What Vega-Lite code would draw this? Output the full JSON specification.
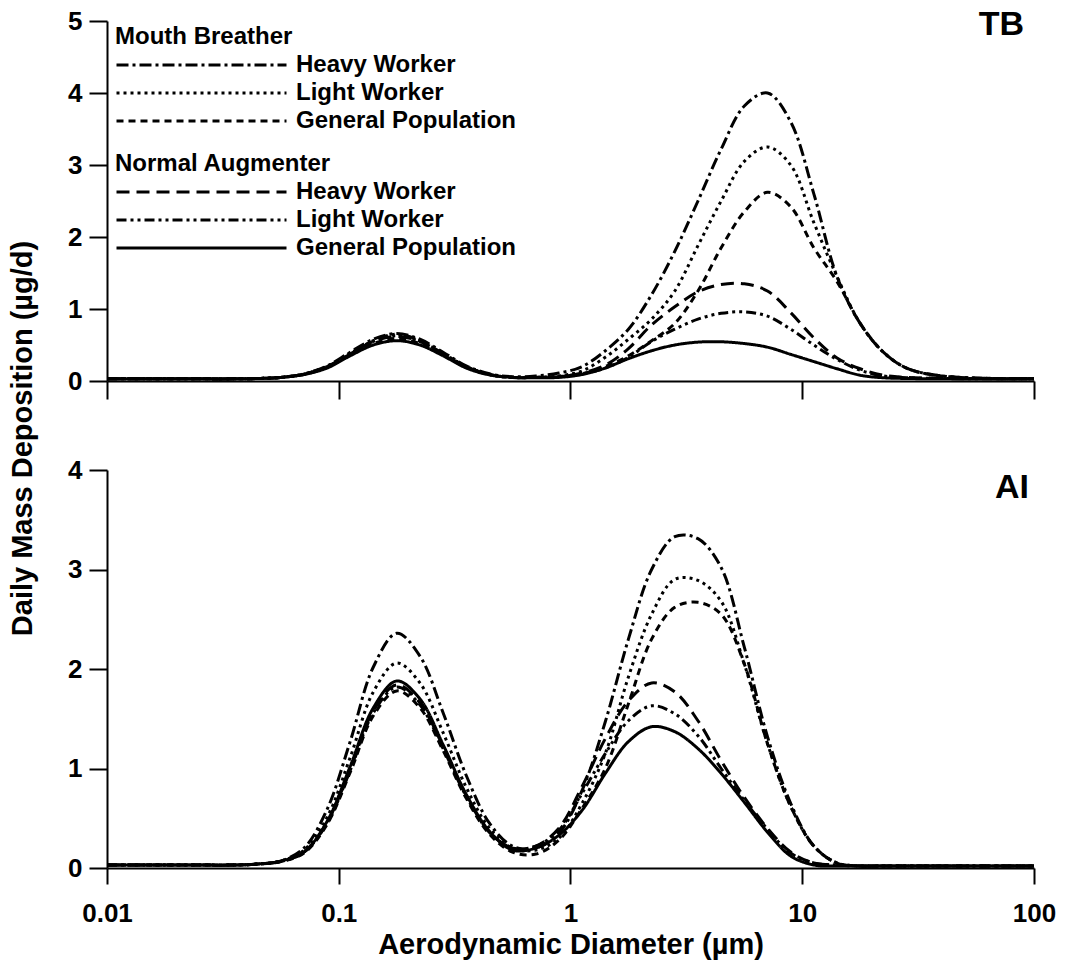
{
  "$schema": "https://vega.github.io/schema/vega-lite/v6.json",
  "padding": {"left": 8, "top": 8, "right": 5, "bottom": 2},
  "background": "white",
  "config": {
    "font": "Liberation Sans",
    "view": {"stroke": null},
    "axis": {"domainColor": "black", "domainWidth": 2, "tickColor": "black", "tickWidth": 2, "labelColor": "black", "titleColor": "black", "grid": false, "labelFontWeight": "bold", "titleFontWeight": "bold", "labelFontSize": 26, "titleFontSize": 29, "labelFlush": false},
    "line": {"color": "black", "strokeWidth": 3, "strokeCap": "butt", "interpolate": "catmull-rom"},
    "legend": {"titleFontSize": 24, "titleFontWeight": "bold", "titleColor": "black", "titlePadding": 4, "titleLimit": 500, "labelFontSize": 24, "labelFontWeight": "bold", "labelColor": "black", "labelLimit": 0, "labelOffset": 8, "symbolType": "stroke", "symbolSize": 28900, "symbolStrokeWidth": 3, "symbolStrokeColor": "black", "clipHeight": 24, "rowPadding": 4, "padding": 0}
  },
  "bounds": "flush",
  "spacing": 89,
  "datasets": {
    "tb": [
      {"s":"MBH","d":0.01,"v":0.03},{"s":"MBH","d":0.0224,"v":0.03},{"s":"MBH","d":0.0355,"v":0.03},{"s":"MBH","d":0.0447,"v":0.035},{"s":"MBH","d":0.0562,"v":0.05},{"s":"MBH","d":0.0708,"v":0.1},{"s":"MBH","d":0.0891,"v":0.21},{"s":"MBH","d":0.112,"v":0.4},{"s":"MBH","d":0.141,"v":0.58},{"s":"MBH","d":0.178,"v":0.66},{"s":"MBH","d":0.224,"v":0.58},{"s":"MBH","d":0.282,"v":0.4},{"s":"MBH","d":0.355,"v":0.21},{"s":"MBH","d":0.447,"v":0.1},{"s":"MBH","d":0.562,"v":0.06},{"s":"MBH","d":0.708,"v":0.07},{"s":"MBH","d":0.891,"v":0.11},{"s":"MBH","d":1.122,"v":0.2},{"s":"MBH","d":1.413,"v":0.42},{"s":"MBH","d":1.778,"v":0.72},{"s":"MBH","d":2.239,"v":1.2},{"s":"MBH","d":2.818,"v":1.8},{"s":"MBH","d":3.548,"v":2.5},{"s":"MBH","d":4.467,"v":3.22},{"s":"MBH","d":5.623,"v":3.82},{"s":"MBH","d":7.079,"v":4.0},{"s":"MBH","d":8.913,"v":3.6},{"s":"MBH","d":11.22,"v":2.6},{"s":"MBH","d":14.13,"v":1.45},{"s":"MBH","d":17.78,"v":0.8},{"s":"MBH","d":22.39,"v":0.4},{"s":"MBH","d":28.18,"v":0.18},{"s":"MBH","d":39.81,"v":0.07},{"s":"MBH","d":100,"v":0.03},
      {"s":"MBL","d":0.01,"v":0.03},{"s":"MBL","d":0.0224,"v":0.03},{"s":"MBL","d":0.0355,"v":0.03},{"s":"MBL","d":0.0447,"v":0.035},{"s":"MBL","d":0.0562,"v":0.05},{"s":"MBL","d":0.0708,"v":0.095},{"s":"MBL","d":0.0891,"v":0.2},{"s":"MBL","d":0.112,"v":0.38},{"s":"MBL","d":0.141,"v":0.55},{"s":"MBL","d":0.178,"v":0.63},{"s":"MBL","d":0.224,"v":0.55},{"s":"MBL","d":0.282,"v":0.38},{"s":"MBL","d":0.355,"v":0.2},{"s":"MBL","d":0.447,"v":0.09},{"s":"MBL","d":0.562,"v":0.05},{"s":"MBL","d":0.708,"v":0.05},{"s":"MBL","d":0.891,"v":0.07},{"s":"MBL","d":1.122,"v":0.14},{"s":"MBL","d":1.413,"v":0.33},{"s":"MBL","d":1.778,"v":0.58},{"s":"MBL","d":2.239,"v":0.86},{"s":"MBL","d":2.818,"v":1.25},{"s":"MBL","d":3.548,"v":1.88},{"s":"MBL","d":4.467,"v":2.5},{"s":"MBL","d":5.623,"v":3.05},{"s":"MBL","d":7.079,"v":3.25},{"s":"MBL","d":8.913,"v":3.0},{"s":"MBL","d":11.22,"v":2.2},{"s":"MBL","d":14.13,"v":1.45},{"s":"MBL","d":17.78,"v":0.8},{"s":"MBL","d":22.39,"v":0.4},{"s":"MBL","d":28.18,"v":0.18},{"s":"MBL","d":39.81,"v":0.07},{"s":"MBL","d":100,"v":0.03},
      {"s":"MBG","d":0.01,"v":0.03},{"s":"MBG","d":0.0224,"v":0.03},{"s":"MBG","d":0.0355,"v":0.03},{"s":"MBG","d":0.0447,"v":0.035},{"s":"MBG","d":0.0562,"v":0.05},{"s":"MBG","d":0.0708,"v":0.09},{"s":"MBG","d":0.0891,"v":0.19},{"s":"MBG","d":0.112,"v":0.36},{"s":"MBG","d":0.141,"v":0.52},{"s":"MBG","d":0.178,"v":0.59},{"s":"MBG","d":0.224,"v":0.52},{"s":"MBG","d":0.282,"v":0.36},{"s":"MBG","d":0.355,"v":0.19},{"s":"MBG","d":0.447,"v":0.09},{"s":"MBG","d":0.562,"v":0.05},{"s":"MBG","d":0.708,"v":0.05},{"s":"MBG","d":0.891,"v":0.06},{"s":"MBG","d":1.122,"v":0.1},{"s":"MBG","d":1.413,"v":0.2},{"s":"MBG","d":1.778,"v":0.35},{"s":"MBG","d":2.239,"v":0.56},{"s":"MBG","d":2.818,"v":0.8},{"s":"MBG","d":3.548,"v":1.25},{"s":"MBG","d":4.467,"v":1.85},{"s":"MBG","d":5.623,"v":2.35},{"s":"MBG","d":7.079,"v":2.62},{"s":"MBG","d":8.913,"v":2.42},{"s":"MBG","d":11.22,"v":1.85},{"s":"MBG","d":14.13,"v":1.38},{"s":"MBG","d":17.78,"v":0.8},{"s":"MBG","d":22.39,"v":0.4},{"s":"MBG","d":28.18,"v":0.18},{"s":"MBG","d":39.81,"v":0.07},{"s":"MBG","d":100,"v":0.03},
      {"s":"NAH","d":0.01,"v":0.03},{"s":"NAH","d":0.0224,"v":0.03},{"s":"NAH","d":0.0355,"v":0.03},{"s":"NAH","d":0.0447,"v":0.035},{"s":"NAH","d":0.0562,"v":0.05},{"s":"NAH","d":0.0708,"v":0.095},{"s":"NAH","d":0.0891,"v":0.2},{"s":"NAH","d":0.112,"v":0.375},{"s":"NAH","d":0.141,"v":0.55},{"s":"NAH","d":0.178,"v":0.62},{"s":"NAH","d":0.224,"v":0.55},{"s":"NAH","d":0.282,"v":0.375},{"s":"NAH","d":0.355,"v":0.2},{"s":"NAH","d":0.447,"v":0.09},{"s":"NAH","d":0.562,"v":0.05},{"s":"NAH","d":0.708,"v":0.05},{"s":"NAH","d":0.891,"v":0.06},{"s":"NAH","d":1.122,"v":0.11},{"s":"NAH","d":1.413,"v":0.22},{"s":"NAH","d":1.778,"v":0.45},{"s":"NAH","d":2.239,"v":0.78},{"s":"NAH","d":2.818,"v":1.03},{"s":"NAH","d":3.548,"v":1.24},{"s":"NAH","d":4.467,"v":1.34},{"s":"NAH","d":5.623,"v":1.35},{"s":"NAH","d":7.079,"v":1.25},{"s":"NAH","d":8.913,"v":0.95},{"s":"NAH","d":11.22,"v":0.6},{"s":"NAH","d":14.13,"v":0.32},{"s":"NAH","d":17.78,"v":0.17},{"s":"NAH","d":22.39,"v":0.08},{"s":"NAH","d":28.18,"v":0.05},{"s":"NAH","d":39.81,"v":0.04},{"s":"NAH","d":100,"v":0.03},
      {"s":"NAL","d":0.01,"v":0.03},{"s":"NAL","d":0.0224,"v":0.03},{"s":"NAL","d":0.0355,"v":0.03},{"s":"NAL","d":0.0447,"v":0.035},{"s":"NAL","d":0.0562,"v":0.05},{"s":"NAL","d":0.0708,"v":0.095},{"s":"NAL","d":0.0891,"v":0.2},{"s":"NAL","d":0.112,"v":0.38},{"s":"NAL","d":0.141,"v":0.56},{"s":"NAL","d":0.178,"v":0.65},{"s":"NAL","d":0.224,"v":0.56},{"s":"NAL","d":0.282,"v":0.38},{"s":"NAL","d":0.355,"v":0.2},{"s":"NAL","d":0.447,"v":0.09},{"s":"NAL","d":0.562,"v":0.05},{"s":"NAL","d":0.708,"v":0.05},{"s":"NAL","d":0.891,"v":0.06},{"s":"NAL","d":1.122,"v":0.1},{"s":"NAL","d":1.413,"v":0.18},{"s":"NAL","d":1.778,"v":0.33},{"s":"NAL","d":2.239,"v":0.55},{"s":"NAL","d":2.818,"v":0.72},{"s":"NAL","d":3.548,"v":0.86},{"s":"NAL","d":4.467,"v":0.94},{"s":"NAL","d":5.623,"v":0.96},{"s":"NAL","d":7.079,"v":0.9},{"s":"NAL","d":8.913,"v":0.72},{"s":"NAL","d":11.22,"v":0.5},{"s":"NAL","d":14.13,"v":0.3},{"s":"NAL","d":17.78,"v":0.15},{"s":"NAL","d":22.39,"v":0.07},{"s":"NAL","d":28.18,"v":0.045},{"s":"NAL","d":39.81,"v":0.035},{"s":"NAL","d":100,"v":0.03},
      {"s":"NAG","d":0.01,"v":0.03},{"s":"NAG","d":0.0224,"v":0.03},{"s":"NAG","d":0.0355,"v":0.03},{"s":"NAG","d":0.0447,"v":0.035},{"s":"NAG","d":0.0562,"v":0.05},{"s":"NAG","d":0.0708,"v":0.09},{"s":"NAG","d":0.0891,"v":0.18},{"s":"NAG","d":0.112,"v":0.35},{"s":"NAG","d":0.141,"v":0.5},{"s":"NAG","d":0.178,"v":0.56},{"s":"NAG","d":0.224,"v":0.5},{"s":"NAG","d":0.282,"v":0.35},{"s":"NAG","d":0.355,"v":0.18},{"s":"NAG","d":0.447,"v":0.085},{"s":"NAG","d":0.562,"v":0.05},{"s":"NAG","d":0.708,"v":0.045},{"s":"NAG","d":0.891,"v":0.05},{"s":"NAG","d":1.122,"v":0.09},{"s":"NAG","d":1.413,"v":0.18},{"s":"NAG","d":1.778,"v":0.31},{"s":"NAG","d":2.239,"v":0.42},{"s":"NAG","d":2.818,"v":0.5},{"s":"NAG","d":3.548,"v":0.54},{"s":"NAG","d":4.467,"v":0.545},{"s":"NAG","d":5.623,"v":0.52},{"s":"NAG","d":7.079,"v":0.47},{"s":"NAG","d":8.913,"v":0.37},{"s":"NAG","d":11.22,"v":0.27},{"s":"NAG","d":14.13,"v":0.17},{"s":"NAG","d":17.78,"v":0.08},{"s":"NAG","d":22.39,"v":0.045},{"s":"NAG","d":28.18,"v":0.035},{"s":"NAG","d":39.81,"v":0.03},{"s":"NAG","d":100,"v":0.03}
    ],
    "ai": [
      {"s":"MBH","d":0.01,"v":0.03},{"s":"MBH","d":0.0224,"v":0.03},{"s":"MBH","d":0.0355,"v":0.03},{"s":"MBH","d":0.0447,"v":0.04},{"s":"MBH","d":0.0562,"v":0.07},{"s":"MBH","d":0.0708,"v":0.2},{"s":"MBH","d":0.0891,"v":0.59},{"s":"MBH","d":0.112,"v":1.27},{"s":"MBH","d":0.141,"v":2.02},{"s":"MBH","d":0.178,"v":2.36},{"s":"MBH","d":0.224,"v":2.13},{"s":"MBH","d":0.282,"v":1.56},{"s":"MBH","d":0.355,"v":0.93},{"s":"MBH","d":0.447,"v":0.45},{"s":"MBH","d":0.562,"v":0.22},{"s":"MBH","d":0.708,"v":0.2},{"s":"MBH","d":0.891,"v":0.35},{"s":"MBH","d":1.122,"v":0.78},{"s":"MBH","d":1.413,"v":1.47},{"s":"MBH","d":1.778,"v":2.3},{"s":"MBH","d":2.239,"v":3.0},{"s":"MBH","d":2.818,"v":3.33},{"s":"MBH","d":3.548,"v":3.31},{"s":"MBH","d":4.467,"v":3.02},{"s":"MBH","d":5.623,"v":2.22},{"s":"MBH","d":7.079,"v":1.32},{"s":"MBH","d":8.913,"v":0.65},{"s":"MBH","d":11.22,"v":0.22},{"s":"MBH","d":14.13,"v":0.05},{"s":"MBH","d":17.78,"v":0.02},{"s":"MBH","d":22.39,"v":0.02},{"s":"MBH","d":28.18,"v":0.02},{"s":"MBH","d":39.81,"v":0.02},{"s":"MBH","d":100,"v":0.02},
      {"s":"MBL","d":0.01,"v":0.03},{"s":"MBL","d":0.0224,"v":0.03},{"s":"MBL","d":0.0355,"v":0.03},{"s":"MBL","d":0.0447,"v":0.04},{"s":"MBL","d":0.0562,"v":0.07},{"s":"MBL","d":0.0708,"v":0.18},{"s":"MBL","d":0.0891,"v":0.51},{"s":"MBL","d":0.112,"v":1.11},{"s":"MBL","d":0.141,"v":1.77},{"s":"MBL","d":0.178,"v":2.06},{"s":"MBL","d":0.224,"v":1.86},{"s":"MBL","d":0.282,"v":1.36},{"s":"MBL","d":0.355,"v":0.81},{"s":"MBL","d":0.447,"v":0.4},{"s":"MBL","d":0.562,"v":0.2},{"s":"MBL","d":0.708,"v":0.18},{"s":"MBL","d":0.891,"v":0.3},{"s":"MBL","d":1.122,"v":0.65},{"s":"MBL","d":1.413,"v":1.15},{"s":"MBL","d":1.778,"v":1.92},{"s":"MBL","d":2.239,"v":2.55},{"s":"MBL","d":2.818,"v":2.9},{"s":"MBL","d":3.548,"v":2.89},{"s":"MBL","d":4.467,"v":2.68},{"s":"MBL","d":5.623,"v":2.05},{"s":"MBL","d":7.079,"v":1.25},{"s":"MBL","d":8.913,"v":0.62},{"s":"MBL","d":11.22,"v":0.22},{"s":"MBL","d":14.13,"v":0.05},{"s":"MBL","d":17.78,"v":0.02},{"s":"MBL","d":22.39,"v":0.02},{"s":"MBL","d":28.18,"v":0.02},{"s":"MBL","d":39.81,"v":0.02},{"s":"MBL","d":100,"v":0.02},
      {"s":"MBG","d":0.01,"v":0.03},{"s":"MBG","d":0.0224,"v":0.03},{"s":"MBG","d":0.0355,"v":0.03},{"s":"MBG","d":0.0447,"v":0.04},{"s":"MBG","d":0.0562,"v":0.065},{"s":"MBG","d":0.0708,"v":0.15},{"s":"MBG","d":0.0891,"v":0.44},{"s":"MBG","d":0.112,"v":0.96},{"s":"MBG","d":0.141,"v":1.53},{"s":"MBG","d":0.178,"v":1.78},{"s":"MBG","d":0.224,"v":1.61},{"s":"MBG","d":0.282,"v":1.18},{"s":"MBG","d":0.355,"v":0.7},{"s":"MBG","d":0.447,"v":0.34},{"s":"MBG","d":0.562,"v":0.16},{"s":"MBG","d":0.708,"v":0.14},{"s":"MBG","d":0.891,"v":0.28},{"s":"MBG","d":1.122,"v":0.6},{"s":"MBG","d":1.413,"v":1.0},{"s":"MBG","d":1.778,"v":1.65},{"s":"MBG","d":2.239,"v":2.3},{"s":"MBG","d":2.818,"v":2.62},{"s":"MBG","d":3.548,"v":2.67},{"s":"MBG","d":4.467,"v":2.55},{"s":"MBG","d":5.623,"v":2.05},{"s":"MBG","d":7.079,"v":1.25},{"s":"MBG","d":8.913,"v":0.62},{"s":"MBG","d":11.22,"v":0.22},{"s":"MBG","d":14.13,"v":0.05},{"s":"MBG","d":17.78,"v":0.02},{"s":"MBG","d":22.39,"v":0.02},{"s":"MBG","d":28.18,"v":0.02},{"s":"MBG","d":39.81,"v":0.02},{"s":"MBG","d":100,"v":0.02},
      {"s":"NAH","d":0.01,"v":0.03},{"s":"NAH","d":0.0224,"v":0.03},{"s":"NAH","d":0.0355,"v":0.03},{"s":"NAH","d":0.0447,"v":0.04},{"s":"NAH","d":0.0562,"v":0.065},{"s":"NAH","d":0.0708,"v":0.16},{"s":"NAH","d":0.0891,"v":0.46},{"s":"NAH","d":0.112,"v":0.99},{"s":"NAH","d":0.141,"v":1.58},{"s":"NAH","d":0.178,"v":1.84},{"s":"NAH","d":0.224,"v":1.66},{"s":"NAH","d":0.282,"v":1.22},{"s":"NAH","d":0.355,"v":0.73},{"s":"NAH","d":0.447,"v":0.36},{"s":"NAH","d":0.562,"v":0.2},{"s":"NAH","d":0.708,"v":0.22},{"s":"NAH","d":0.891,"v":0.4},{"s":"NAH","d":1.122,"v":0.82},{"s":"NAH","d":1.413,"v":1.3},{"s":"NAH","d":1.778,"v":1.68},{"s":"NAH","d":2.239,"v":1.86},{"s":"NAH","d":2.818,"v":1.77},{"s":"NAH","d":3.548,"v":1.48},{"s":"NAH","d":4.467,"v":1.08},{"s":"NAH","d":5.623,"v":0.71},{"s":"NAH","d":7.079,"v":0.4},{"s":"NAH","d":8.913,"v":0.16},{"s":"NAH","d":11.22,"v":0.05},{"s":"NAH","d":14.13,"v":0.03},{"s":"NAH","d":17.78,"v":0.02},{"s":"NAH","d":22.39,"v":0.02},{"s":"NAH","d":28.18,"v":0.02},{"s":"NAH","d":39.81,"v":0.02},{"s":"NAH","d":100,"v":0.02},
      {"s":"NAL","d":0.01,"v":0.03},{"s":"NAL","d":0.0224,"v":0.03},{"s":"NAL","d":0.0355,"v":0.03},{"s":"NAL","d":0.0447,"v":0.04},{"s":"NAL","d":0.0562,"v":0.065},{"s":"NAL","d":0.0708,"v":0.16},{"s":"NAL","d":0.0891,"v":0.45},{"s":"NAL","d":0.112,"v":0.98},{"s":"NAL","d":0.141,"v":1.56},{"s":"NAL","d":0.178,"v":1.82},{"s":"NAL","d":0.224,"v":1.64},{"s":"NAL","d":0.282,"v":1.2},{"s":"NAL","d":0.355,"v":0.72},{"s":"NAL","d":0.447,"v":0.36},{"s":"NAL","d":0.562,"v":0.2},{"s":"NAL","d":0.708,"v":0.22},{"s":"NAL","d":0.891,"v":0.38},{"s":"NAL","d":1.122,"v":0.75},{"s":"NAL","d":1.413,"v":1.15},{"s":"NAL","d":1.778,"v":1.48},{"s":"NAL","d":2.239,"v":1.63},{"s":"NAL","d":2.818,"v":1.55},{"s":"NAL","d":3.548,"v":1.33},{"s":"NAL","d":4.467,"v":1.0},{"s":"NAL","d":5.623,"v":0.68},{"s":"NAL","d":7.079,"v":0.39},{"s":"NAL","d":8.913,"v":0.15},{"s":"NAL","d":11.22,"v":0.05},{"s":"NAL","d":14.13,"v":0.03},{"s":"NAL","d":17.78,"v":0.02},{"s":"NAL","d":22.39,"v":0.02},{"s":"NAL","d":28.18,"v":0.02},{"s":"NAL","d":39.81,"v":0.02},{"s":"NAL","d":100,"v":0.02},
      {"s":"NAG","d":0.01,"v":0.03},{"s":"NAG","d":0.0224,"v":0.03},{"s":"NAG","d":0.0355,"v":0.03},{"s":"NAG","d":0.0447,"v":0.04},{"s":"NAG","d":0.0562,"v":0.07},{"s":"NAG","d":0.0708,"v":0.16},{"s":"NAG","d":0.0891,"v":0.47},{"s":"NAG","d":0.112,"v":1.02},{"s":"NAG","d":0.141,"v":1.61},{"s":"NAG","d":0.178,"v":1.88},{"s":"NAG","d":0.224,"v":1.7},{"s":"NAG","d":0.282,"v":1.24},{"s":"NAG","d":0.355,"v":0.74},{"s":"NAG","d":0.447,"v":0.37},{"s":"NAG","d":0.562,"v":0.18},{"s":"NAG","d":0.708,"v":0.2},{"s":"NAG","d":0.891,"v":0.33},{"s":"NAG","d":1.122,"v":0.58},{"s":"NAG","d":1.413,"v":0.95},{"s":"NAG","d":1.778,"v":1.27},{"s":"NAG","d":2.239,"v":1.42},{"s":"NAG","d":2.818,"v":1.37},{"s":"NAG","d":3.548,"v":1.2},{"s":"NAG","d":4.467,"v":0.95},{"s":"NAG","d":5.623,"v":0.66},{"s":"NAG","d":7.079,"v":0.36},{"s":"NAG","d":8.913,"v":0.12},{"s":"NAG","d":11.22,"v":0.03},{"s":"NAG","d":14.13,"v":0.02},{"s":"NAG","d":17.78,"v":0.02},{"s":"NAG","d":22.39,"v":0.02},{"s":"NAG","d":28.18,"v":0.02},{"s":"NAG","d":39.81,"v":0.02},{"s":"NAG","d":100,"v":0.02}
    ]
  },
  "vconcat": [
    {
      "width": 927,
      "height": 360,
      "data": {"name": "tb"},
      "title": {"text": "TB", "anchor": "end", "frame": "group", "orient": "top", "offset": -34, "dx": -10, "fontSize": 34, "fontWeight": "bold", "color": "black", "font": "Liberation Sans"},
      "resolve": {"scale": {"strokeDash": "independent"}, "legend": {"strokeDash": "independent"}},
      "layer": [
        {
          "transform": [{"filter": {"field": "s", "oneOf": ["MBH", "MBL", "MBG"]}}],
          "mark": {"type": "line"},
          "encoding": {
            "x": {"field": "d", "type": "quantitative", "scale": {"type": "log", "domain": [0.01, 100], "nice": false}, "axis": {"values": [0.01, 0.1, 1, 10, 100], "labels": false, "title": null, "tickSize": 18}},
            "y": {"field": "v", "type": "quantitative", "scale": {"domain": [0, 5], "nice": false}, "axis": {"values": [0, 1, 2, 3, 4, 5], "format": "d", "title": "Daily Mass Deposition (µg/d)", "titleX": -85, "titleY": 417, "titleAlign": "center", "titleBaseline": "middle", "titleAngle": -90, "tickSize": 18, "labelPadding": 7}},
            "strokeDash": {"field": "s", "type": "nominal", "scale": {"domain": ["MBH", "MBL", "MBG"], "range": [[12, 4, 3, 4], [3, 4], [7, 5]]},
              "legend": {"orient": "none", "legendX": 8, "legendY": 4, "direction": "vertical", "title": "Mouth Breather",
                "labelExpr": "datum.label == 'MBH' ? 'Heavy Worker' : datum.label == 'MBL' ? 'Light Worker' : 'General Population'"}}
          }
        },
        {
          "transform": [{"filter": {"field": "s", "oneOf": ["NAH", "NAL", "NAG"]}}],
          "mark": {"type": "line"},
          "encoding": {
            "x": {"field": "d", "type": "quantitative"},
            "y": {"field": "v", "type": "quantitative"},
            "strokeDash": {"field": "s", "type": "nominal", "scale": {"domain": ["NAH", "NAL", "NAG"], "range": [[13, 7], [10, 4, 3, 4, 3, 4], [1, 0]]},
              "legend": {"orient": "none", "legendX": 8, "legendY": 131, "direction": "vertical", "title": "Normal Augmenter",
                "labelExpr": "datum.label == 'NAH' ? 'Heavy Worker' : datum.label == 'NAL' ? 'Light Worker' : 'General Population'"}}
          }
        }
      ]
    },
    {
      "width": 927,
      "height": 398,
      "data": {"name": "ai"},
      "title": {"text": "AI", "anchor": "end", "frame": "group", "orient": "top", "offset": -48, "dx": -5, "fontSize": 34, "fontWeight": "bold", "color": "black", "font": "Liberation Sans"},
      "mark": {"type": "line"},
      "encoding": {
        "x": {"field": "d", "type": "quantitative", "scale": {"type": "log", "domain": [0.01, 100], "nice": false}, "axis": {"values": [0.01, 0.1, 1, 10, 100], "format": "~g", "title": "Aerodynamic Diameter (µm)", "tickSize": 16, "labelPadding": 16, "titlePadding": 4}},
        "y": {"field": "v", "type": "quantitative", "scale": {"domain": [0, 4], "nice": false}, "axis": {"values": [0, 1, 2, 3, 4], "title": null, "tickSize": 18, "labelPadding": 7}},
        "strokeDash": {"field": "s", "type": "nominal", "scale": {"domain": ["MBH", "MBL", "MBG", "NAH", "NAL", "NAG"], "range": [[12, 4, 3, 4], [3, 4], [7, 5], [13, 7], [10, 4, 3, 4, 3, 4], [1, 0]]}, "legend": null}
      }
    }
  ]
}
